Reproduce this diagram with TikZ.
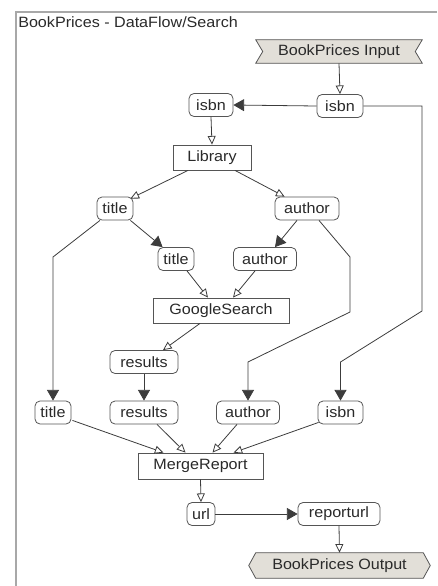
\documentclass[tikz,border=0pt]{standalone}
\usepackage{fontspec}
\setmainfont[FakeStretch=1.08]{Liberation Sans}
\usetikzlibrary{arrows.meta,calc}
\definecolor{linec}{HTML}{3C3C3C}
\definecolor{boxc}{HTML}{555555}
\definecolor{ioc}{HTML}{E2DFD8}
\definecolor{framec}{HTML}{A8A8A8}
\definecolor{txtc}{HTML}{2A2A2A}
\tikzset{
  lbl/.style={font=\fontsize{11.2}{13}\selectfont, text=txtc, inner sep=0pt},
  rbox/.style={lbl, draw=boxc, line width=0.6pt, rounded corners=3.75pt, fill=white, minimum height=17.25pt},
  sbox/.style={lbl, draw=boxc, line width=0.6pt, fill=white, minimum height=18.75pt},
  iobox/.style={lbl, minimum height=17.25pt},
  ioshape/.style={draw=boxc, line width=0.6pt, fill=ioc},
  flow/.style={draw=linec, line width=0.6pt},
  oarr/.style={flow, -{Triangle[open, length=6.5pt, width=6pt, fill=white]}},
  farr/.style={flow, -{Triangle[length=8pt, width=9pt]}},
}
\begin{document}
\begin{tikzpicture}[x=0.75pt, y=-0.75pt]
\useasboundingbox (0,0) rectangle (437,586);
% frame
\draw[framec, line width=1.1pt] (437,12) -- (16,12) -- (16,586);
\node[lbl, anchor=west] (title) at (18,22) {BookPrices - DataFlow/Search};

% input / output
\node[iobox, minimum width=124.5pt] (input) at (339,51.5) {};
\draw[ioshape] (input.north west) -- (input.north east) -- ($(input.east)+(-7,0)$) -- (input.south east) -- (input.south west) -- ($(input.west)+(7,0)$) -- cycle;
\node[lbl] at (input) {BookPrices Input};

\node[iobox, minimum width=125.25pt, minimum height=18.75pt] (output) at (339.5,565.5) {};
\draw[ioshape] (output.north west) -- (output.north east) -- ($(output.east)+(7,0)$) -- (output.south east) -- (output.south west) -- ($(output.west)+(-7,0)$) -- cycle;
\node[lbl] at (output) {BookPrices Output};

% nodes
\node[rbox, minimum width=34.5pt] (isbnR) at (340,106) {isbn};
\node[rbox, minimum width=33pt] (isbnL) at (211,105) {isbn};
\node[sbox, minimum width=58.5pt] (library) at (212,157.5) {Library};
\node[rbox, minimum width=27pt] (titleA) at (115,208.5) {title};
\node[rbox, minimum width=48pt] (authorA) at (307,208.5) {author};
\node[rbox, minimum width=27pt] (titleB) at (176,259) {title};
\node[rbox, minimum width=47.25pt] (authorB) at (265,259) {author};
\node[sbox, minimum width=102pt] (google) at (221,310.5) {GoogleSearch};
\node[rbox, minimum width=51pt] (results1) at (144,362) {results};
\node[rbox, minimum width=27pt] (titleC) at (53,412.5) {title};
\node[rbox, minimum width=51pt] (results2) at (144,412.5) {results};
\node[rbox, minimum width=47.25pt] (authorC) at (248,412.5) {author};
\node[rbox, minimum width=33.75pt] (isbnC) at (340.5,412.5) {isbn};
\node[sbox, minimum width=93.75pt, minimum height=19.5pt] (merge) at (200.5,466) {MergeReport};
\node[rbox, minimum width=21pt] (url) at (201,514) {url};
\node[rbox, minimum width=61.5pt] (reporturl) at (339,514) {reporturl};

% bend points
\coordinate (bt1) at (53,257);
\coordinate (ba1) at (350,257);
\coordinate (ba2) at (350,312);
\coordinate (ba3) at (248,362);
\coordinate (bi1) at (422,106);
\coordinate (bi2) at (422,311);
\coordinate (bi3) at (340.5,362);

% connectors
\draw[oarr] (input.south) -- (isbnR.north);
\draw[farr] (isbnR.west) -- (isbnL.east);
\draw[oarr] (isbnL.south) -- (library.north);
\draw[oarr] ($(library.south)+(-24,0)$) -- ($(titleA.north east)+(-3,2)$);
\draw[oarr] ($(library.south)+(23,0)$) -- ($(authorA.north west)+(10,0)$);
\draw[farr] ($(titleA.south east)+(-3,0)$) -- ($(titleB.north west)+(5,0)$);
\draw[farr] ($(authorA.south)+(-10,0)$) -- ($(authorB.north)+(10,0)$);
\draw[oarr] ($(titleB.south)+(11,0)$) -- ($(google.north)+(-13,0)$);
\draw[oarr] ($(authorB.south)+(-10,0)$) -- ($(google.north)+(12,0)$);
\draw[oarr] ($(google.south)+(-21,0)$) -- ($(results1.north)+(19,0)$);
\draw[farr] (results1.south) -- (results2.north);
\draw[farr] ($(titleA.south)+(-15,0)$) -- (bt1) -- (titleC.north);
\draw[farr] ($(authorA.south)+(12,0)$) -- (ba1) -- (ba2) -- (ba3) -- (authorC.north);
\draw[farr] (isbnR.east) -- (bi1) -- (bi2) -- (bi3) -- (isbnC.north);
\draw[oarr] ($(titleC.south east)+(1,-4)$) -- ($(merge.north)+(-37,0)$);
\draw[oarr] ($(results2.south)+(13,0)$) -- ($(merge.north)+(-15,0)$);
\draw[oarr] ($(authorC.south)+(-11,0)$) -- ($(merge.north)+(12,0)$);
\draw[oarr] ($(isbnC.south west)+(1,-2)$) -- ($(merge.north)+(33,0)$);
\draw[oarr] (merge.south) -- (url.north);
\draw[farr] (url.east) -- (reporturl.west);
\draw[oarr] (reporturl.south) -- (output.north);
\end{tikzpicture}
\end{document}
